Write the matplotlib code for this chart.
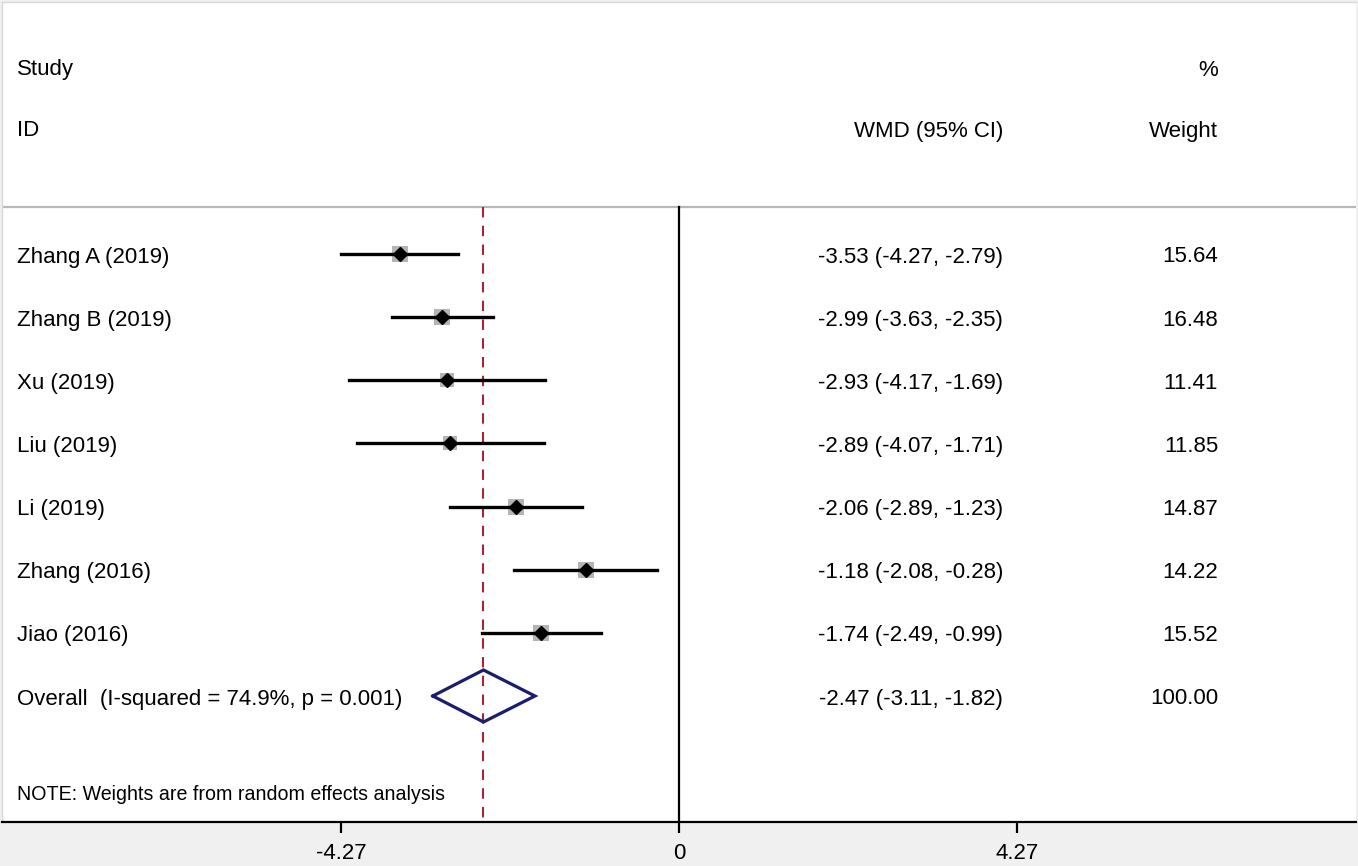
import numpy as np
import matplotlib
matplotlib.use("Agg")
import matplotlib.pyplot as plt

# du lieu doc tu hinh
studies = ["Zhang A (2019)", "Zhang B (2019)", "Xu (2019)", "Liu (2019)",
           "Li (2019)", "Zhang (2016)", "Jiao (2016)"]
wmd = [-3.53, -2.99, -2.93, -2.89, -2.06, -1.18, -1.74]
lo = [-4.27, -3.63, -4.17, -4.07, -2.89, -2.08, -2.49]
hi = [-2.79, -2.35, -1.69, -1.71, -1.23, -0.28, -0.99]
weights = [15.64, 16.48, 11.41, 11.85, 14.87, 14.22, 15.52]
overall_label = "Overall  (I-squared = 74.9%, p = 0.001)"
overall = [-2.47, -3.11, -1.82]
overall_weight = 100.00
xticks = [-4.27, 0, 4.27]

plt.rcParams['font.family'] = ['Liberation Sans', 'DejaVu Sans']
fs = 16.0

fig = plt.figure(figsize=(13.58, 8.66), dpi=100, facecolor='#f0f0f0')
ax = fig.add_axes([2/1358, 44/866, 1354/1358, 820/866])
ax.set_facecolor('white')

scale = 338 / 4.27
ax.set_xlim((2 - 679) / scale, (1356 - 679) / scale)
row = (696 - 254) / 7
ax.set_ylim((822 - 254) / row, (2 - 254) / row)

def px_x(p):
    return (p - 679) / scale

def px_y(p):
    return (p - 254) / row

line_y = px_y(207)
bottom = px_y(822)
dt = 3 / row  # chinh chu xuong mot chut

# duong ke ngang va duong doc
ax.plot([ax.get_xlim()[0], ax.get_xlim()[1]], [line_y, line_y], color='#b8b8b8', lw=1.6)
ax.plot([0, 0], [line_y, bottom], color='black', lw=1.6)
ax.plot([overall[0], overall[0]], [line_y, bottom], color='#9a2a35', lw=1.5,
        dashes=(5, 4))

ys = np.arange(len(studies))
for i in range(len(studies)):
    ax.plot([lo[i], hi[i]], [ys[i], ys[i]], color='black', lw=2.4, zorder=3)
    side = 4.1 * np.sqrt(weights[i]) / 1.389
    ax.scatter([wmd[i]], [ys[i]], s=side ** 2, marker='s', color='#b4b4b4',
               zorder=2, linewidths=0)
    ax.plot([wmd[i]], [ys[i]], marker='D', color='black', markersize=7.3,
            zorder=4, lw=0)

# kim cuong tong hop
yo = len(studies)
h = 26 / row
dx = [overall[1], overall[0], overall[2], overall[0], overall[1]]
dy = [yo, yo - h, yo, yo + h, yo]
ax.plot(dx, dy, color='#1c1c6e', lw=2.3, solid_joinstyle='miter', zorder=3)

# chu
x_lab = px_x(17)
x_ci = px_x(1003)
x_w = px_x(1218)
ax.text(x_lab, px_y(67) + dt, "Study", fontsize=fs, va='center', ha='left')
ax.text(x_lab, px_y(128) + dt, "ID", fontsize=fs, va='center', ha='left')
ax.text(x_w, px_y(67) + dt, "%", fontsize=fs, va='center', ha='right')
ax.text(x_ci, px_y(128) + dt, "WMD (95% CI)", fontsize=fs, va='center', ha='right')
ax.text(x_w, px_y(128) + dt, "Weight", fontsize=fs, va='center', ha='right')

for i in range(len(studies)):
    ax.text(x_lab, ys[i] + dt, studies[i], fontsize=fs, va='center', ha='left')
    ax.text(x_ci, ys[i] + dt, "%.2f (%.2f, %.2f)" % (wmd[i], lo[i], hi[i]),
            fontsize=fs, va='center', ha='right')
    ax.text(x_w, ys[i] + dt, "%.2f" % weights[i], fontsize=fs, va='center', ha='right')

ax.text(x_lab, yo + dt, overall_label, fontsize=fs, va='center', ha='left')
ax.text(x_ci, yo + dt, "%.2f (%.2f, %.2f)" % tuple(overall), fontsize=fs,
        va='center', ha='right')
ax.text(x_w, yo + dt, "%.2f" % overall_weight, fontsize=fs, va='center', ha='right')
ax.text(x_lab, px_y(791) + dt, "NOTE: Weights are from random effects analysis",
        fontsize=fs * 0.885, va='center', ha='left')

# truc
ax.spines['right'].set_visible(False)
for s in ['top', 'left']:
    ax.spines[s].set_color('#d8d8d8')
    ax.spines[s].set_linewidth(1.0)
ax.spines['bottom'].set_linewidth(1.6)
ax.set_yticks([])
ax.set_xticks(xticks)
ax.set_xticklabels(["%g" % t for t in xticks])
ax.tick_params(axis='x', length=8, width=1.6, labelsize=fs, pad=7)

fig.savefig("out.png", dpi=100, facecolor=fig.get_facecolor())
